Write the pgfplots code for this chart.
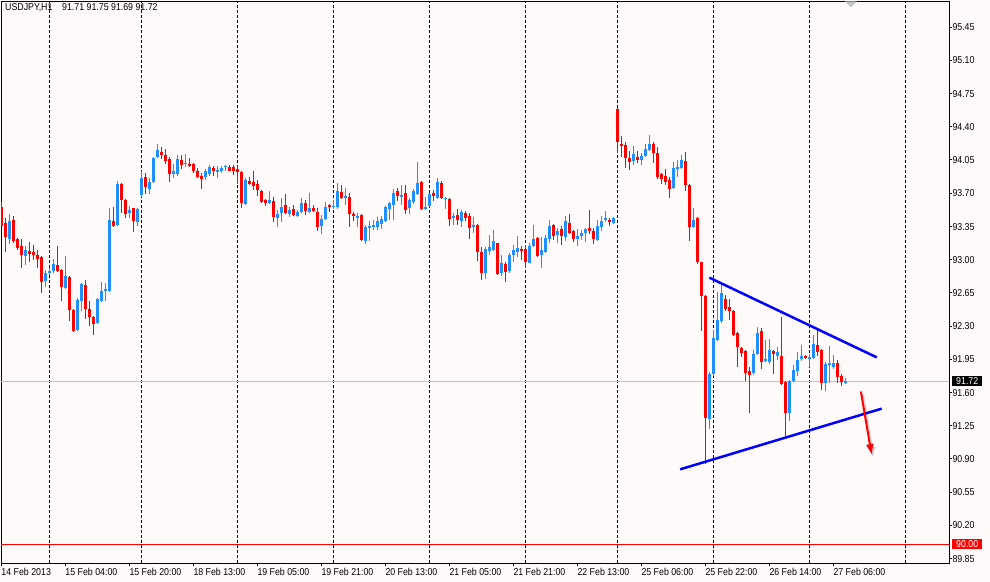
\documentclass[border=0pt]{standalone}
\usepackage{fontspec}
\setmainfont{Liberation Sans}[FakeStretch=0.88]
\usepackage{pgfplots}
\usepackage{pgfplotstable}
\pgfplotsset{compat=1.18}
\usetikzlibrary{arrows.meta}

\definecolor{bull}{RGB}{30,144,255}
\definecolor{bear}{RGB}{255,0,0}
\definecolor{bgsnow}{RGB}{255,250,250}
\definecolor{trend}{RGB}{0,0,255}
\definecolor{pline}{RGB}{192,192,192}

% USDJPY H1 bars: index, open, high, low, close
\pgfplotstableread{
x o h l c
0 93.56 93.61 93.35 93.36
1 93.39 93.44 93.08 93.24
2 93.22 93.48 93.16 93.41
3 93.42 93.46 93.18 93.20
4 93.22 93.23 93.10 93.12
5 93.14 93.22 92.91 93.05
6 93.04 93.14 92.94 93.10
7 93.09 93.19 92.98 93.06
8 93.08 93.16 93.00 93.05
9 93.05 93.10 92.91 93.01
10 93.03 93.04 92.65 92.76
11 92.77 92.89 92.71 92.86
12 92.86 92.91 92.84 92.88
13 92.88 93.01 92.86 92.95
14 92.94 93.14 92.87 92.88
15 92.89 92.90 92.57 92.71
16 92.70 93.04 92.69 92.83
17 92.82 92.83 92.35 92.47
18 92.47 92.48 92.24 92.25
19 92.26 92.60 92.25 92.57
20 92.57 92.75 92.46 92.74
21 92.73 92.79 92.37 92.48
22 92.48 92.56 92.30 92.40
23 92.40 92.41 92.21 92.32
24 92.33 92.60 92.32 92.58
25 92.56 92.76 92.55 92.67
26 92.67 92.75 92.56 92.69
27 92.67 93.54 92.66 93.42
28 93.41 93.56 93.35 93.36
29 93.37 93.83 93.36 93.80
30 93.80 93.81 93.49 93.63
31 93.63 93.64 93.44 93.48
32 93.49 93.56 93.44 93.52
33 93.54 93.55 93.29 93.41
34 93.40 93.55 93.36 93.53
35 93.68 93.93 93.66 93.86
36 93.87 93.91 93.69 93.77
37 93.74 93.86 93.69 93.82
38 93.82 94.08 93.81 94.07
39 94.08 94.22 94.07 94.15
40 94.13 94.19 94.06 94.10
41 94.10 94.17 94.01 94.04
42 94.06 94.08 93.82 93.90
43 93.90 94.01 93.86 93.93
44 93.90 94.10 93.88 94.06
45 94.05 94.10 93.95 94.00
46 94.01 94.11 93.98 94.02
47 94.01 94.07 93.98 93.99
48 94.01 94.02 93.91 93.94
49 93.94 93.97 93.86 93.87
50 93.88 93.91 93.74 93.85
51 93.87 93.96 93.84 93.93
52 93.90 94.00 93.88 93.98
53 93.97 93.99 93.88 93.93
54 93.93 93.99 93.86 93.94
55 93.93 93.99 93.91 93.97
56 93.98 94.00 93.93 93.99
57 93.98 94.00 93.93 93.94
58 93.98 94.00 93.89 93.93
59 93.95 93.99 93.80 93.92
60 93.92 93.93 93.54 93.60
61 93.59 93.86 93.58 93.84
62 93.83 93.87 93.79 93.80
63 93.82 93.93 93.73 93.78
64 93.80 93.84 93.67 93.73
65 93.72 93.73 93.60 93.61
66 93.63 93.64 93.57 93.60
67 93.60 93.72 93.59 93.63
68 93.62 93.66 93.40 93.45
69 93.44 93.52 93.35 93.48
70 93.49 93.65 93.40 93.56
71 93.58 93.69 93.48 93.49
72 93.48 93.56 93.45 93.52
73 93.53 93.58 93.46 93.47
74 93.46 93.52 93.45 93.50
75 93.50 93.65 93.49 93.60
76 93.60 93.63 93.47 93.51
77 93.50 93.70 93.49 93.54
78 93.55 93.58 93.50 93.51
79 93.50 93.54 93.30 93.34
80 93.35 93.47 93.27 93.43
81 93.43 93.61 93.42 93.56
82 93.58 93.59 93.50 93.56
83 93.55 93.63 93.53 93.57
84 93.56 93.81 93.53 93.72
85 93.71 93.79 93.64 93.65
86 93.66 93.75 93.58 93.67
87 93.66 93.70 93.35 93.48
88 93.48 93.50 93.41 93.46
89 93.45 93.49 93.35 93.46
90 93.47 93.48 93.20 93.21
91 93.20 93.37 93.16 93.34
92 93.33 93.41 93.20 93.35
93 93.35 93.42 93.31 93.36
94 93.34 93.45 93.31 93.41
95 93.38 93.46 93.32 93.43
96 93.41 93.56 93.40 93.55
97 93.53 93.61 93.42 93.60
98 93.58 93.75 93.42 93.70
99 93.72 93.76 93.62 93.67
100 93.66 93.79 93.58 93.68
101 93.70 93.79 93.48 93.52
102 93.54 93.65 93.48 93.63
103 93.61 93.74 93.59 93.72
104 93.69 94.03 93.68 93.81
105 93.82 93.83 93.52 93.53
106 93.53 93.66 93.52 93.56
107 93.56 93.70 93.55 93.69
108 93.70 93.73 93.62 93.67
109 93.65 93.86 93.64 93.82
110 93.81 93.83 93.64 93.65
111 93.64 93.66 93.53 93.65
112 93.64 93.65 93.35 93.43
113 93.44 93.49 93.36 93.46
114 93.47 93.53 93.37 93.42
115 93.41 93.52 93.35 93.50
116 93.49 93.51 93.41 93.44
117 93.46 93.49 93.22 93.33
118 93.35 93.45 93.28 93.36
119 93.37 93.38 92.99 93.08
120 93.08 93.13 92.78 92.86
121 92.86 93.13 92.80 93.11
122 93.09 93.26 93.05 93.13
123 93.10 93.31 93.09 93.20
124 93.17 93.18 92.84 92.85
125 92.86 93.05 92.83 92.96
126 92.95 92.98 92.76 92.87
127 92.88 93.07 92.86 93.05
128 93.05 93.15 92.98 93.10
129 93.08 93.25 93.03 93.12
130 93.11 93.14 93.00 93.09
131 93.11 93.15 92.91 92.98
132 92.97 93.18 92.96 93.14
133 93.14 93.36 93.13 93.22
134 93.23 93.24 93.03 93.04
135 93.05 93.24 92.91 93.10
136 93.08 93.26 93.07 93.23
137 93.22 93.42 93.18 93.36
138 93.37 93.38 93.21 93.25
139 93.26 93.33 93.18 93.30
140 93.32 93.36 93.15 93.25
141 93.24 93.46 93.20 93.41
142 93.39 93.48 93.27 93.28
143 93.30 93.31 93.19 93.22
144 93.22 93.32 93.14 93.25
145 93.25 93.31 93.21 93.28
146 93.28 93.33 93.19 93.32
147 93.33 93.52 93.27 93.30
148 93.30 93.33 93.16 93.22
149 93.21 93.42 93.20 93.35
150 93.35 93.46 93.30 93.41
151 93.42 93.51 93.40 93.44
152 93.42 93.44 93.36 93.40
153 93.39 93.45 93.38 93.44
154 94.59 94.60 94.12 94.24
155 94.22 94.30 94.08 94.20
156 94.21 94.24 93.97 94.07
157 94.07 94.14 93.94 94.03
158 94.04 94.20 94.00 94.11
159 94.08 94.15 94.02 94.05
160 94.05 94.12 94.00 94.09
161 94.09 94.22 94.08 94.17
162 94.15 94.31 94.14 94.22
163 94.22 94.24 94.02 94.12
164 94.12 94.19 93.85 93.87
165 93.90 93.91 93.80 93.85
166 93.88 93.96 93.79 93.82
167 93.84 93.87 93.65 93.75
168 93.76 94.03 93.75 93.97
169 93.96 94.05 93.87 93.98
170 93.97 94.10 93.96 94.05
171 94.04 94.14 93.72 93.79
172 93.79 93.80 93.20 93.34
173 93.34 93.55 93.33 93.42
174 93.44 93.45 92.96 92.98
175 92.97 92.98 92.25 92.62
176 92.62 92.63 90.85 91.33
177 91.32 91.82 91.22 91.80
178 91.80 92.26 91.77 92.18
179 92.15 92.66 92.14 92.36
180 92.35 92.76 92.33 92.65
181 92.58 92.63 92.46 92.48
182 92.50 92.59 92.36 92.46
183 92.46 92.47 92.19 92.21
184 92.23 92.24 91.87 92.08
185 92.07 92.08 91.98 92.02
186 92.04 92.05 91.72 91.81
187 91.83 91.87 91.39 91.79
188 91.81 92.05 91.78 92.01
189 92.01 92.29 92.00 92.23
190 92.25 92.28 91.85 91.92
191 91.93 92.15 91.92 91.95
192 91.92 92.16 91.90 92.05
193 92.04 92.05 91.80 92.01
194 91.99 92.08 91.94 92.03
195 91.98 92.40 91.68 91.69
196 91.71 91.72 91.12 91.38
197 91.39 91.73 91.30 91.72
198 91.72 91.89 91.71 91.84
199 91.83 92.03 91.77 91.94
200 91.95 92.10 91.93 91.98
201 91.98 92.00 91.95 91.96
202 91.96 92.01 91.87 91.97
203 91.96 92.21 91.95 92.11
204 92.10 92.28 91.98 92.03
205 92.05 92.06 91.63 91.70
206 91.70 91.92 91.62 91.90
207 91.89 92.09 91.70 91.91
208 91.87 92.00 91.85 91.91
209 91.91 91.94 91.70 91.76
210 91.77 91.80 91.67 91.71
211 91.71 91.75 91.69 91.72
}\bars

\pgfplotsset{
  candle/.style 2 args={draw=none, forget plot,
    /pgfplots/error bars/y dir=both, /pgfplots/error bars/y explicit,
    /pgfplots/error bars/error mark=none,
    /pgfplots/error bars/error bar style={draw=#1, solid, line width=#2}},
}

\begin{document}
\begin{tikzpicture}[font=\fontsize{10bp}{12bp}\selectfont]
\fill[bgsnow] (0,0) rectangle (990bp,582bp);
\path[use as bounding box] (0,0) rectangle (990bp,582bp);
\begin{axis}[
  at={(1bp,18.7bp)}, anchor=south west,
  width=948.3bp, height=561.8bp, scale only axis,
  xmin=-0.075, xmax=237, ymin=89.80, ymax=95.72,
  axis line style={black, line width=1bp},
  tick style={black, line width=1bp},
  tick align=outside, major tick length=3bp,
  xtick pos=left, ytick pos=right, yticklabel pos=right,
  xtick={0,16,32,48,64,80,96,112,128,144,160,176,192,208},
  xticklabels={14 Feb 2013, 15 Feb 04:00, 15 Feb 20:00, 18 Feb 13:00,
    19 Feb 05:00, 19 Feb 21:00, 20 Feb 13:00, 21 Feb 05:00, 21 Feb 21:00,
    22 Feb 13:00, 25 Feb 06:00, 25 Feb 22:00, 26 Feb 14:00, 27 Feb 06:00},
  ytick={89.85,90.20,90.55,90.90,91.25,91.60,91.95,92.30,92.65,93.00,
    93.35,93.70,94.05,94.40,94.75,95.10,95.45},
  xticklabel style={anchor=north west, inner sep=0pt, text height=7.2bp, text depth=0pt, yshift=-2bp},
  yticklabel style={anchor=west, inner sep=0pt, text height=7.2bp, text depth=0pt,
    /pgf/number format/fixed, /pgf/number format/fixed zerofill,
    /pgf/number format/precision=2, /pgf/number format/assume math mode=true},
  extra x ticks={12,35,59,83,107,131,154,178,202,226},
  extra x tick labels={},
  extra x tick style={grid=major, major tick length=0pt},
  major grid style={black, line width=1bp, dash pattern=on 3bp off 2bp},
]
\addplot[pline, line width=1bp, forget plot] coordinates {(-1,91.72) (240,91.72)};
\addplot[bear, line width=1bp, forget plot] coordinates {(-1,90) (240,90)};

% rising bars (blue)
\addplot[restrict expr to domain={\thisrow{c}-\thisrow{o}}{0:100}, candle={bull}{1bp}]
  table[x=x, y expr={(\thisrow{h}+\thisrow{l})/2}, y error expr={(\thisrow{h}-\thisrow{l})/2}] {\bars};
\addplot[restrict expr to domain={\thisrow{c}-\thisrow{o}}{0:100}, candle={bull}{3bp}]
  table[x=x, y expr={(\thisrow{o}+\thisrow{c})/2}, y error expr={max(abs(\thisrow{c}-\thisrow{o})/2,0.005)}] {\bars};
% falling bars (red)
\addplot[restrict expr to domain={\thisrow{c}-\thisrow{o}}{-100:-0.001}, candle={bear}{1bp}]
  table[x=x, y expr={(\thisrow{h}+\thisrow{l})/2}, y error expr={(\thisrow{h}-\thisrow{l})/2}] {\bars};
\addplot[restrict expr to domain={\thisrow{c}-\thisrow{o}}{-100:-0.001}, candle={bear}{3bp}]
  table[x=x, y expr={(\thisrow{o}+\thisrow{c})/2}, y error expr={max(abs(\thisrow{c}-\thisrow{o})/2,0.005)}] {\bars};

% triangle trend lines and arrow
\addplot[trend, line width=2.5bp, forget plot] coordinates {(177.0,92.81) (218.85,91.97)};
\addplot[trend, line width=2.5bp, forget plot] coordinates {(169.7,90.79) (220.1,91.43)};
\addplot[black, opacity=0.15, line width=3bp, forget plot, -{Latex[length=11bp,width=9bp]}]
  coordinates {(215.3,91.58) (218.0,90.91)};
\addplot[bear, line width=2bp, forget plot, -{Latex[length=11bp,width=8bp]}]
  coordinates {(214.9,91.61) (217.6,90.94)};

\fill[gray!45] (axis cs:210.9,95.72) -- (axis cs:213.9,95.72) -- (axis cs:212.4,95.66) -- cycle;

\coordinate (lp) at (axis cs:237,91.72);
\coordinate (lr) at (axis cs:237,90);
\end{axis}
\node[anchor=base west, inner sep=0pt] at (5bp,571bp) {USDJPY,H1};
\node[anchor=base west, inner sep=0pt] at (62bp,571bp) {91.71 91.75 91.69 91.72};
\node[fill=black, text=white, anchor=west, inner xsep=4bp, inner ysep=1.4bp,
  text height=7.2bp, text depth=0pt] at ([xshift=2.7bp]lp) {91.72};
\node[fill=bear, text=white, anchor=west, inner xsep=4bp, inner ysep=1.4bp,
  text height=7.2bp, text depth=0pt] at ([xshift=2.7bp]lr) {90.00};
\end{tikzpicture}
\end{document}
